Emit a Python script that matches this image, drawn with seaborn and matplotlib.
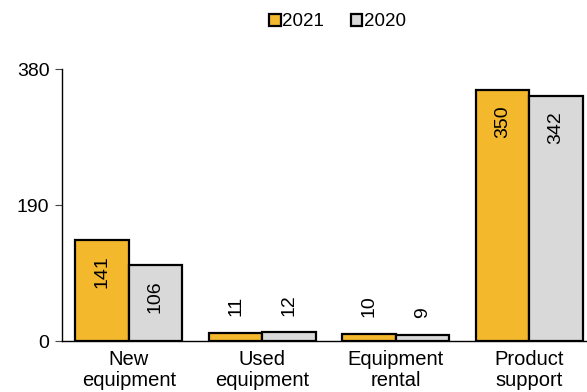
import pandas as pd
import matplotlib.pyplot as plt
import seaborn as sns
from matplotlib.patches import Patch

# Chart data
categories = ["New\nequipment", "Used\nequipment", "Equipment\nrental", "Product\nsupport"]
years = ["2021", "2020"]
values_2021 = [141, 11, 10, 350]
values_2020 = [106, 12, 9, 342]

df = pd.DataFrame({
    "Category": categories * 2,
    "Year": [years[0]] * 4 + [years[1]] * 4,
    "Value": values_2021 + values_2020,
})

sns.set_style("white")
plt.rcParams["font.family"] = ["Liberation Sans", "DejaVu Sans"]
plt.rcParams["text.color"] = "black"
plt.rcParams["xtick.color"] = "black"
plt.rcParams["ytick.color"] = "black"

colors = {"2021": "#F4B82C", "2020": "#D9D9D9"}

fig = plt.figure(figsize=(5.87, 3.92), dpi=100)
ax = fig.add_axes([62 / 587, 1 - 341 / 392, 534 / 587, 272 / 392])

sns.barplot(data=df, x="Category", y="Value", hue="Year", order=categories,
            hue_order=years, palette=colors, saturation=1, edgecolor="black",
            linewidth=1.6, width=0.8, legend=False, ax=ax)

# value labels
for container in ax.containers:
    for bar in container:
        h = bar.get_height()
        xc = bar.get_x() + bar.get_width() / 2
        if h > 50:
            ax.annotate(f"{h:.0f}", (xc, h), xytext=(0, -11), textcoords="offset points",
                        rotation=90, ha="center", va="top", fontsize=14)
        else:
            ax.annotate(f"{h:.0f}", (xc, h), xytext=(0, 12), textcoords="offset points",
                        rotation=90, ha="center", va="bottom", fontsize=14)

ax.set_ylim(0, 380)
ax.set_xlim(-0.5, 3.5)
ax.set_yticks([0, 190, 380])
ax.set_xlabel("")
ax.set_ylabel("")
ax.set_xticks([-0.5, 0.5, 1.5, 2.5, 3.5], minor=True)
ax.tick_params(axis="x", which="major", length=0, labelsize=14.5, pad=6.5)
ax.tick_params(axis="x", which="minor", length=5, width=0.8, color="#444444", direction="out")
ax.tick_params(axis="y", length=5, width=0.8, color="#444444", direction="out",
               labelsize=14, pad=4, left=True)
for lab in ax.get_xticklabels():
    lab.set_linespacing(1.1)
for s in ["top", "right"]:
    ax.spines[s].set_visible(False)
for s in ["left", "bottom"]:
    ax.spines[s].set_color("black")
    ax.spines[s].set_linewidth(1.0)
ax.spines["bottom"].set_clip_on(False)

handles = [Patch(facecolor=colors[y], edgecolor="black", linewidth=1.6, label=y) for y in years]
fig.legend(handles=handles, loc="center", bbox_to_anchor=(0.575, 1 - 22 / 392), ncol=2,
           frameon=False, fontsize=13.5, handlelength=0.6, handleheight=0.6,
           handletextpad=0.1, columnspacing=1.4)

plt.savefig("out.png", dpi=100)
